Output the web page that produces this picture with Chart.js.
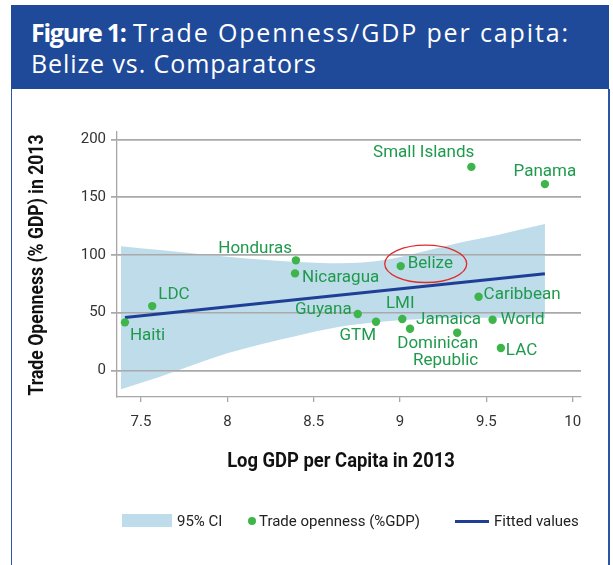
<!DOCTYPE html>
<html>
<head>
<meta charset="utf-8">
<title>Trade Openness/GDP per capita: Belize vs. Comparators</title>
<script src="https://cdn.jsdelivr.net/npm/chart.js@4.4.1/dist/chart.umd.min.js"></script>
<style>
  html, body { margin: 0; padding: 0; background: #fff; }
  body { width: 613px; height: 565px; position: relative; overflow: hidden; }
  .header {
    position: absolute; left: 11px; top: 5px; width: 598px; height: 84px;
    background: #1f4a99; color: #fff; z-index: 2;
    font-family: "Open Sans", "DejaVu Sans", sans-serif; font-size: 25px;
  }
  .header span { position: absolute; white-space: nowrap; line-height: 30px; }
  .header .b { font-weight: 700; }
  .frame {
    position: absolute; left: 11px; top: 89px; width: 596px; height: 490px;
    border-left: 1.5px solid #2b56a3; border-right: 2px solid #2b56a3;
  }
  #chart { position: absolute; left: 0; top: 0; z-index: 1; }
  .legend span {
    position: absolute; z-index: 3; white-space: nowrap;
    font-family: Roboto, "Liberation Sans", sans-serif;
    font-size: 15px; line-height: 20px; color: #222;
  }
  .legend i { position: absolute; z-index: 3; display: block; }
</style>
</head>
<body>
<div class="header">
  <span class="fit b" data-w="96" style="left: 20px; top: 12px;">Figure 1:</span>
  <span class="fit" data-w="435" style="left: 122px; top: 12px;">Trade Openness/GDP per capita:</span>
  <span class="fit" data-w="285" style="left: 20px; top: 43px;">Belize vs. Comparators</span>
</div>
<div class="frame"></div>
<canvas id="chart" width="613" height="565"></canvas>
<div class="legend">
  <i style="left:122px; top:514px; width:50px; height:13px; background:#bedcea;"></i>
  <span style="left:177px; top:511px;">95% CI</span>
  <i style="left:247.5px; top:517px; width:8px; height:8px; border-radius:50%; background:#3db54a;"></i>
  <span style="left:259px; top:511px;">Trade openness (%GDP)</span>
  <i style="left:455px; top:519.5px; width:34px; height:3px; background:#1f3f96;"></i>
  <span style="left:494px; top:511px;">Fitted values</span>
</div>
<script>
// data
const countries = ['Haiti', 'LDC', 'Honduras', 'Nicaragua', 'Guyana', 'GTM', 'Belize', 'LMI',
    'Jamaica', 'Dominican Republic', 'Small Islands', 'Caribbean', 'World', 'LAC', 'Panama'];
const logGdp = [7.407, 7.565, 8.397, 8.392, 8.755, 8.861, 9.004, 9.013,
    9.058, 9.331, 9.413, 9.455, 9.536, 9.584, 9.839];
const openness = [41.5, 55.6, 95.2, 83.9, 48.8, 42.0, 90.2, 44.4,
    36.0, 32.5, 176.1, 63.7, 43.8, 19.3, 161.2];

const fitX = [7.407, 9.839];
const fitY = [45.8, 83.6];

const ciX = [7.384, 7.61, 8.0, 8.38, 8.65, 8.91, 9.17, 9.37, 9.56, 9.839];
const ciUpper = [107.5, 104.1, 98.3, 93.9, 92.6, 95.4, 104.1, 111.2, 117.0, 126.6];
const ciLower = [-16.4, -5.5, 14.7, 29.1, 37.7, 42.3, 44.6, 45.4, 45.5, 45.0];

const xTicks = [7.5, 8, 8.5, 9, 9.5, 10];
const yTicks = [0, 50, 100, 150, 200];

// label placement next to each dot: [dx, dy, align]
const labelPlace = [
    [5, 13, 'left'], [6, -11, 'left'], [-4, -12, 'right'], [7, 4, 'left'],
    [-6, -4, 'right'], [0, 14, 'right'], [7, -2, 'left'], [-2, -15, 'center'],
    [6, -9, 'left'], [21, 11, 'right'], [3, -14, 'right'], [5, -2, 'left'],
    [8, 0, 'left'], [5, 3, 'left'], [0, -12, 'center']
];

// stretch the header lines to the widths of the original title
document.querySelectorAll('.fit').forEach(el => {
    const n = el.textContent.length;
    const w = el.getBoundingClientRect().width;
    el.style.letterSpacing = ((+el.dataset.w - w) / (n - 1)) + 'px';
});

const family = 'Roboto, "Liberation Sans", sans-serif';
const green = '#1f9a4c';

const pointLabels = {
    id: 'pointLabels',
    afterDatasetsDraw(chart) {
        const { ctx, scales: { x, y } } = chart;
        ctx.save();
        ctx.font = '17px ' + family;
        ctx.fillStyle = green;
        ctx.textBaseline = 'middle';
        countries.forEach((name, i) => {
            const px = x.getPixelForValue(logGdp[i]);
            const py = y.getPixelForValue(openness[i]);
            const [dx, dy, align] = labelPlace[i];
            ctx.textAlign = align;
            const lines = name === 'Dominican Republic' ? ['Dominican', 'Republic'] : [name];
            lines.forEach((t, k) => ctx.fillText(t, px + dx, py + dy + k * 17));
            if (name === 'Belize') {
                ctx.beginPath();
                ctx.strokeStyle = '#e02b2b';
                ctx.lineWidth = 1.3;
                ctx.ellipse(px + 25, py - 2.3, 41, 18.7, 0, 0, Math.PI * 2);
                ctx.stroke();
            }
        });
        ctx.restore();
    }
};

// gridlines sit on top of the CI band but under the fitted line and dots
const gridOverBand = {
    id: 'gridOverBand',
    afterDatasetDraw(chart, args) {
        if (args.index === 2) {
            chart.scales.y.drawGrid(chart.chartArea);
        }
    }
};

// condensed bold axis titles
const axisTitles = {
    id: 'axisTitles',
    afterDraw(chart) {
        const { ctx } = chart;
        ctx.save();
        ctx.font = 'bold 20px ' + family;
        ctx.fillStyle = '#111';
        ctx.textAlign = 'center';
        ctx.textBaseline = 'alphabetic';
        ctx.save();
        ctx.translate(341, 466.5);
        ctx.scale(0.92, 1);
        ctx.fillText('Log GDP per Capita in 2013', 0, 0);
        ctx.restore();
        ctx.translate(43, 265);
        ctx.rotate(-Math.PI / 2);
        ctx.scale(0.88, 1);
        ctx.fillText('Trade Openness (% GDP) in 2013', 0, 0);
        ctx.restore();
    }
};

new Chart(document.getElementById('chart'), {
    type: 'scatter',
    data: {
        datasets: [
            {
                label: 'Trade openness (%GDP)',
                data: logGdp.map((v, i) => ({ x: v, y: openness[i] })),
                backgroundColor: '#3db54a',
                borderWidth: 0,
                pointRadius: 4.2
            },
            {
                type: 'line',
                label: 'Fitted values',
                data: fitX.map((v, i) => ({ x: v, y: fitY[i] })),
                borderColor: '#1f3f96',
                borderWidth: 3,
                pointRadius: 0,
                fill: false
            },
            {
                type: 'line',
                label: '95% CI',
                data: ciX.map((v, i) => ({ x: v, y: ciUpper[i] })),
                borderWidth: 0,
                borderColor: 'transparent',
                backgroundColor: '#bedcea',
                pointRadius: 0,
                cubicInterpolationMode: 'monotone',
                fill: '+1'
            },
            {
                type: 'line',
                label: '95% CI lower',
                data: ciX.map((v, i) => ({ x: v, y: ciLower[i] })),
                borderWidth: 0,
                borderColor: 'transparent',
                pointRadius: 0,
                cubicInterpolationMode: 'monotone',
                fill: false
            }
        ]
    },
    options: {
        responsive: false,
        animation: false,
        layout: { padding: { left: 0, top: 132, right: 32, bottom: 128 } },
        plugins: {
            legend: { display: false },
            title: { display: false },
            tooltip: { enabled: false }
        },
        scales: {
            x: {
                type: 'linear',
                min: 7.361,
                max: 10.048,
                afterBuildTicks: s => { s.ticks = xTicks.map(v => ({ value: v })); },
                afterFit: s => { s.height = 40; },
                grid: { drawOnChartArea: false, drawTicks: true, tickLength: 5, color: '#a6a6a6', lineWidth: 1.3 },
                border: { color: '#a6a6a6', width: 1.3 },
                ticks: { color: '#333', padding: 11, maxRotation: 0, font: { family: family, size: 15 }, callback: v => String(v) }
            },
            y: {
                type: 'linear',
                min: -23.1,
                max: 206.3,
                afterBuildTicks: s => { s.ticks = yTicks.map(v => ({ value: v })); },
                afterFit: s => { s.width = 117; },
                grid: { color: '#a9a9a9', lineWidth: 1.5, tickLength: 6 },
                border: { color: '#a6a6a6', width: 1.3 },
                ticks: { color: '#333', padding: 5, font: { family: family, size: 15 }, callback: v => String(v) }
            }
        }
    },
    plugins: [gridOverBand, pointLabels, axisTitles]
});
</script>
</body>
</html>
